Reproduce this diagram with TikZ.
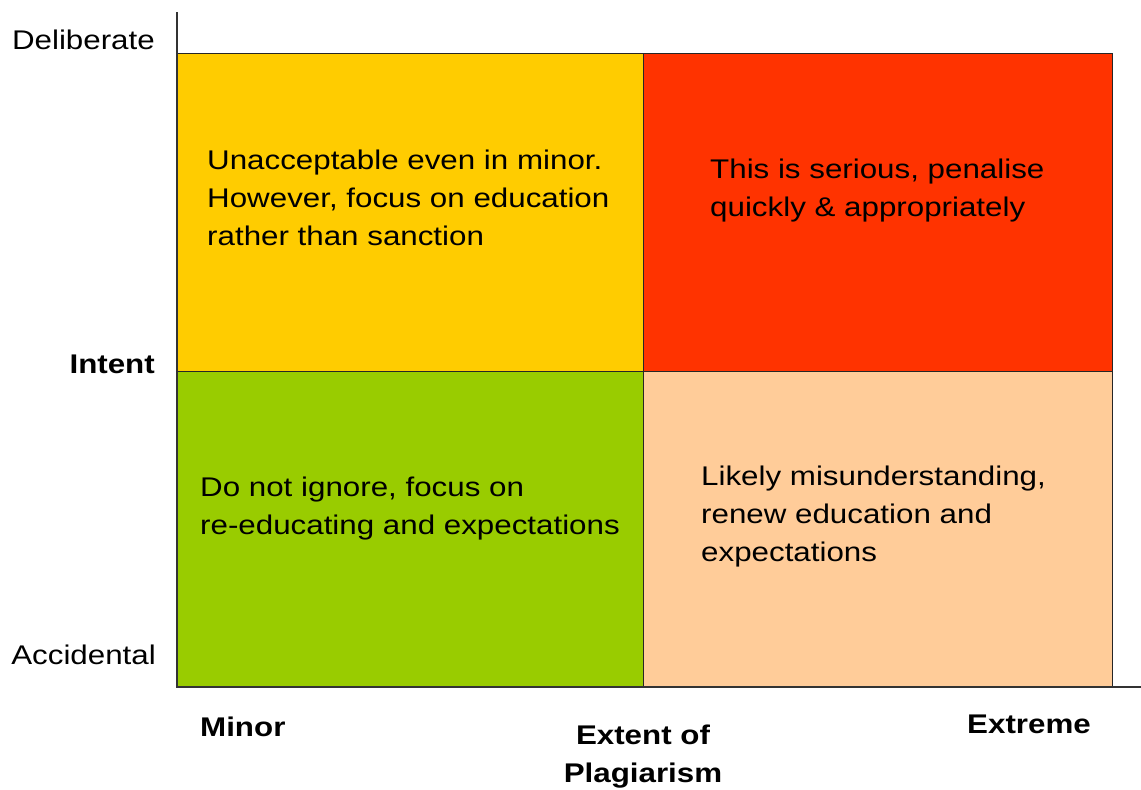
\documentclass[tikz,border=0pt]{standalone}
\usepackage{fontspec}
\setmainfont{Liberation Sans}[FakeStretch=1.16]
\definecolor{qyellow}{HTML}{FFCC00}
\definecolor{qred}{HTML}{FF3300}
\definecolor{qgreen}{HTML}{99CC00}
\definecolor{qpeach}{HTML}{FFCC99}
\begin{document}
\begin{tikzpicture}[x=1pt,y=-1pt,
  quad/.style={draw=black!85, line width=1pt},
  axis/.style={draw=black!80, line width=1.3pt},
  txt/.style={inner sep=0pt, font=\fontsize{27}{38}\selectfont, align=left},
  lbl/.style={inner sep=0pt, font=\fontsize{27}{38}\selectfont},
  blbl/.style={inner sep=0pt, font=\fontsize{27}{38}\selectfont\bfseries}]
\useasboundingbox (0,0) rectangle (1141,790);
% four quadrants
\coordinate (tl) at (177,53);
\coordinate (tm) at (643,53);
\coordinate (tr) at (1112,53);
\coordinate (ml) at (177,371);
\coordinate (mm) at (643,371);
\coordinate (mr) at (1112,371);
\coordinate (bl) at (177,687);
\coordinate (bm) at (643,687);
\coordinate (br) at (1112,687);
\fill[qyellow] (tl) rectangle (mm);
\fill[qred] (tm) rectangle (mr);
\fill[qgreen] (ml) rectangle (bm);
\fill[qpeach] (mm) rectangle (br);
\draw[quad] (tl) rectangle (br);
\draw[quad] (tm) -- (bm);
\draw[quad] (ml) -- (mr);
% axes
\coordinate (ytop) at (177,12);
\coordinate (xend) at (1141,687);
\draw[axis] (ytop) -- (bl) -- (xend);
% quadrant texts (base anchor sits on the last line)
\node[txt, anchor=base west] (q1) at (207,245) {Unacceptable even in minor.\\However, focus on education\\rather than sanction};
\node[txt, anchor=base west] (q2) at (710,216) {This is serious, penalise\\quickly \& appropriately};
\node[txt, anchor=base west] (q3) at (200,534) {Do not ignore, focus on\\re-educating and expectations};
\node[txt, anchor=base west] (q4) at (701,561) {Likely misunderstanding,\\renew education and\\expectations};
% axis labels
\node[lbl, anchor=base east] (delib) at (155,49) {Deliberate};
\node[blbl, anchor=base east] (intent) at (155,373) {Intent};
\node[lbl, anchor=base east] (accid) at (156,664) {Accidental};
\node[blbl, anchor=base west] (minor) at (200,736) {Minor};
\node[blbl, anchor=base, align=center] (extent) at (643,782) {Extent of\\Plagiarism};
\node[blbl, anchor=base west] (extreme) at (967,733) {Extreme};
\end{tikzpicture}
\end{document}
